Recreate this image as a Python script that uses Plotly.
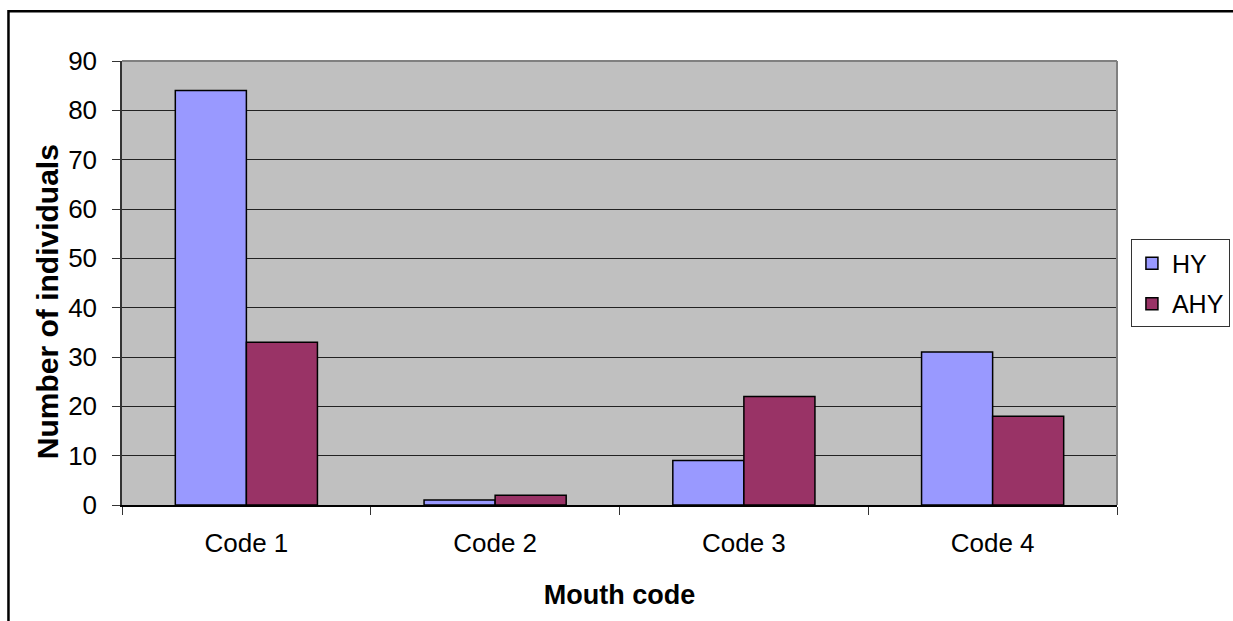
import plotly.graph_objects as go

# Mouth code counts by age class
categories = ["Code 1", "Code 2", "Code 3", "Code 4"]
hy_counts = [84, 1, 9, 31]
ahy_counts = [33, 2, 22, 18]
y_ticks = [0, 10, 20, 30, 40, 50, 60, 70, 80, 90]

FONT = "Liberation Sans, Arial, sans-serif"

fig = go.Figure()
fig.add_trace(go.Bar(
    name="HY", x=categories, y=hy_counts, legendgroup="hy",
    marker=dict(color="#9999FF", line=dict(color="black", width=1.5)),
))
fig.add_trace(go.Bar(
    name="AHY", x=categories, y=ahy_counts, legendgroup="ahy",
    marker=dict(color="#993366", line=dict(color="black", width=1.5)),
))

fig.update_layout(
    width=1233, height=621,
    margin=dict(l=122, r=116, t=61, b=116, autoexpand=False),
    paper_bgcolor="white",
    plot_bgcolor="#C0C0C0",
    barmode="group",
    bargap=0.4286,
    bargroupgap=0,
    font=dict(family=FONT, size=26, color="black"),
    legend=dict(
        x=1.014, xanchor="left", y=0.598, yanchor="top",
        bgcolor="white", bordercolor="#333333", borderwidth=1,
        font=dict(family=FONT, size=25),
        tracegroupgap=5,
    ),
    xaxis=dict(
        type="category",
        showline=True, linecolor="black", linewidth=1.5,
        ticks="outside", tickson="boundaries", ticklen=8, tickcolor="#333333",
        ticklabelstandoff=14,
        showgrid=False,
        tickfont=dict(size=26),
        title=dict(text="<b>Mouth code</b>", font=dict(size=27), standoff=28),
    ),
    yaxis=dict(
        range=[0, 90], tickvals=y_ticks,
        showline=True, linecolor="#333333", linewidth=1.5,
        ticks="outside", ticklen=8, tickcolor="#333333",
        ticklabelstandoff=10,
        showgrid=True, gridcolor="#222222", gridwidth=1,
        zeroline=False,
        tickfont=dict(size=26),
    ),
    annotations=[
        # y-axis title
        dict(text="<b>Number of individuals</b>", textangle=-90,
             xref="paper", yref="paper", x=-0.0754, y=0.459,
             xanchor="center", yanchor="middle", showarrow=False,
             font=dict(family=FONT, size=30)),
    ],
    shapes=[
        # grey frame on the top and right of the plot area
        dict(type="line", xref="paper", yref="paper", x0=0, x1=1, y0=1, y1=1,
             line=dict(color="#808080", width=2), layer="above"),
        dict(type="line", xref="paper", yref="paper", x0=1, x1=1, y0=0, y1=1,
             line=dict(color="#808080", width=2), layer="above"),
        # outer chart border
        dict(type="rect", xref="paper", yref="paper",
             x0=-0.1141, x1=1.3, y0=1.112, y1=-0.4,
             line=dict(color="black", width=2.5), fillcolor="rgba(0,0,0,0)"),
    ],
)

fig.write_html("out.html")
